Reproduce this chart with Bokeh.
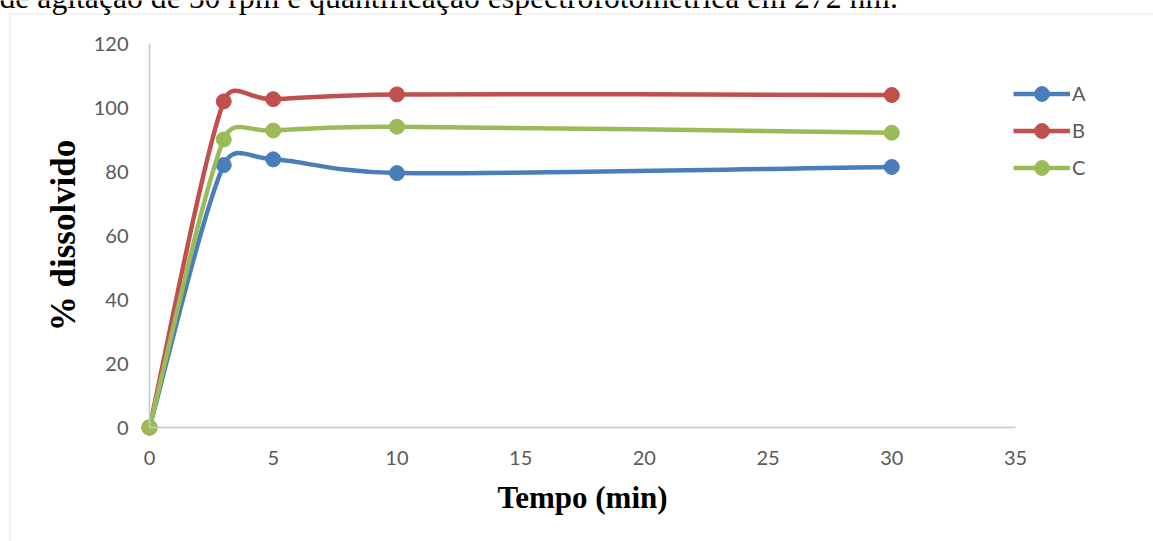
import numpy as np
from bokeh.plotting import figure
from bokeh.models import Range1d, Label, Legend, LegendItem, BoxAnnotation, FixedTicker
from bokeh.embed import file_html
from bokeh.resources import INLINE

# Dissolution profile: time (min) vs % dissolved for three formulations
tempo = [0, 3, 5, 10, 30]
serie_a = [0, 82.0, 83.8, 79.5, 81.4]
serie_b = [0, 101.9, 102.6, 104.1, 103.9]
serie_c = [0, 90.0, 92.8, 94.0, 92.1]
nomes = ["A", "B", "C"]
cores = ["#4A7EBB", "#C0504D", "#9BBB59"]
x_ticks = [0, 5, 10, 15, 20, 25, 30, 35]
y_ticks = [0, 20, 40, 60, 80, 100, 120]
legenda_texto = "de agitação de 50 rpm e quantificação espectrofotométrica em 272 nm."

# Canvas and placement of the plotting area (pixels from top-left)
W, H = 1153, 541
AX_LEFT, AX_RIGHT, AX_TOP, AX_BOTTOM = 149, 1015, 43, 427
X0, X1 = 0, 35
Y0, Y1 = 0, 120
KX = (AX_RIGHT - AX_LEFT) / (X1 - X0)
KY = (AX_BOTTOM - AX_TOP) / (Y1 - Y0)

# The frame covers the whole canvas; the axes sit at fixed data locations
x_range = Range1d(X0 - AX_LEFT / KX, X1 + (W - AX_RIGHT) / KX)
y_range = Range1d(Y0 - (H - AX_BOTTOM) / KY, Y1 + AX_TOP / KY)


def smooth_segments(xs, ys):
    """Cubic Bezier pieces through the points (spreadsheet-style smoothed line).
    Tangents are computed in pixel space and limited by the adjacent segment length."""
    P = np.column_stack([np.asarray(xs, float) * KX, np.asarray(ys, float) * KY])
    n = len(P)
    c_out = P.copy()
    c_in = P.copy()
    for i in range(1, n - 1):
        t = P[i + 1] - P[i - 1]
        L = np.hypot(*t)
        u = t / L
        d_prev = np.hypot(*(P[i] - P[i - 1]))
        d_next = np.hypot(*(P[i + 1] - P[i]))
        c_out[i] = P[i] + u * min(L / 6, 0.5 * d_next)
        c_in[i] = P[i] - u * min(L / 6, 0.5 * d_prev)
    c_out[0] = P[0] + (P[1] - P[0]) / 6
    c_in[-1] = P[-1] - (P[-1] - P[-2]) / 6
    return dict(
        x0=P[:-1, 0] / KX, y0=P[:-1, 1] / KY,
        x1=P[1:, 0] / KX, y1=P[1:, 1] / KY,
        cx0=c_out[:-1, 0] / KX, cy0=c_out[:-1, 1] / KY,
        cx1=c_in[1:, 0] / KX, cy1=c_in[1:, 1] / KY,
    )


p = figure(
    width=W, height=H,
    x_range=x_range, y_range=y_range,
    output_backend="svg", toolbar_location=None,
    min_border=0, min_border_left=0, min_border_right=0,
    min_border_top=0, min_border_bottom=0,
)
p.outline_line_color = None
p.background_fill_color = "white"
p.border_fill_color = "white"
p.grid.visible = False

tick_font = "Lato"
for ax in (p.xaxis[0], p.yaxis[0]):
    ax.fixed_location = 0
    ax.axis_line_color = "#c8c8c8"
    ax.axis_line_width = 1.5
    ax.major_tick_line_color = None
    ax.minor_tick_line_color = None
    ax.major_tick_out = 0
    ax.major_tick_in = 0
    ax.major_label_text_font = tick_font
    ax.major_label_text_font_size = "20px"
    ax.major_label_text_color = "#595959"
    ax.axis_label_text_font = "Liberation Serif"
    ax.axis_label_text_font_style = "bold"
    ax.axis_label_text_color = "black"

p.xaxis.bounds = (X0, X1)
p.yaxis.bounds = (Y0, Y1)
p.xaxis.ticker = FixedTicker(ticks=x_ticks)
p.yaxis.ticker = FixedTicker(ticks=y_ticks)
p.xaxis.major_label_standoff = 23
p.yaxis.major_label_standoff = 21
p.xaxis.axis_label = "Tempo (min)"
p.xaxis.axis_label_text_font_size = "31px"
p.xaxis.axis_label_standoff = 12
p.yaxis.axis_label = "% dissolvido"
p.yaxis.axis_label_text_font_size = "35px"
p.yaxis.axis_label_standoff = 8

# Light frame around the chart object
p.add_layout(BoxAnnotation(
    left=9.5, right=W + 20, top=13.5, bottom=H + 20,
    left_units="canvas", right_units="canvas",
    top_units="canvas", bottom_units="canvas",
    fill_alpha=0, line_color="#d9d9d9", line_width=2,
    editable=False,
))

items = []
for nome, ys, cor in zip(nomes, [serie_a, serie_b, serie_c], cores):
    seg = smooth_segments(tempo, ys)
    p.bezier(source=seg, x0="x0", y0="y0", x1="x1", y1="y1",
             cx0="cx0", cy0="cy0", cx1="cx1", cy1="cy1",
             line_color=cor, line_width=4.5)
    # legend stand-in for the smoothed line (draws nothing in the plot)
    proxy = p.line(x=[np.nan], y=[np.nan], line_color=cor, line_width=4.5)
    pts = p.scatter(tempo, ys, size=15, marker="circle",
                    fill_color=cor, line_color=cor)
    items.append(LegendItem(label=nome, renderers=[proxy, pts]))

LEG_ROW = 37
LEG_TOP = 74.5
legend = Legend(
    items=items,
    location=(1013, H - LEG_TOP - LEG_ROW * len(items)),
    orientation="vertical",
    glyph_width=57, glyph_height=LEG_ROW,
    label_height=LEG_ROW, label_standoff=2,
    spacing=0, padding=0, margin=0,
    border_line_color=None, background_fill_alpha=0,
    label_text_font=tick_font, label_text_font_size="20px",
    label_text_color="#595959", label_text_baseline="middle",
)
p.add_layout(legend)

# Caption text running above the chart box
p.add_layout(Label(
    x=-1, y=H + 3, x_units="screen", y_units="screen",
    text=legenda_texto, text_font="Liberation Serif", text_font_size="31.7px",
    text_color="black", text_baseline="alphabetic", text_align="left",
))

open("out.html", "w").write(file_html(p, INLINE))
